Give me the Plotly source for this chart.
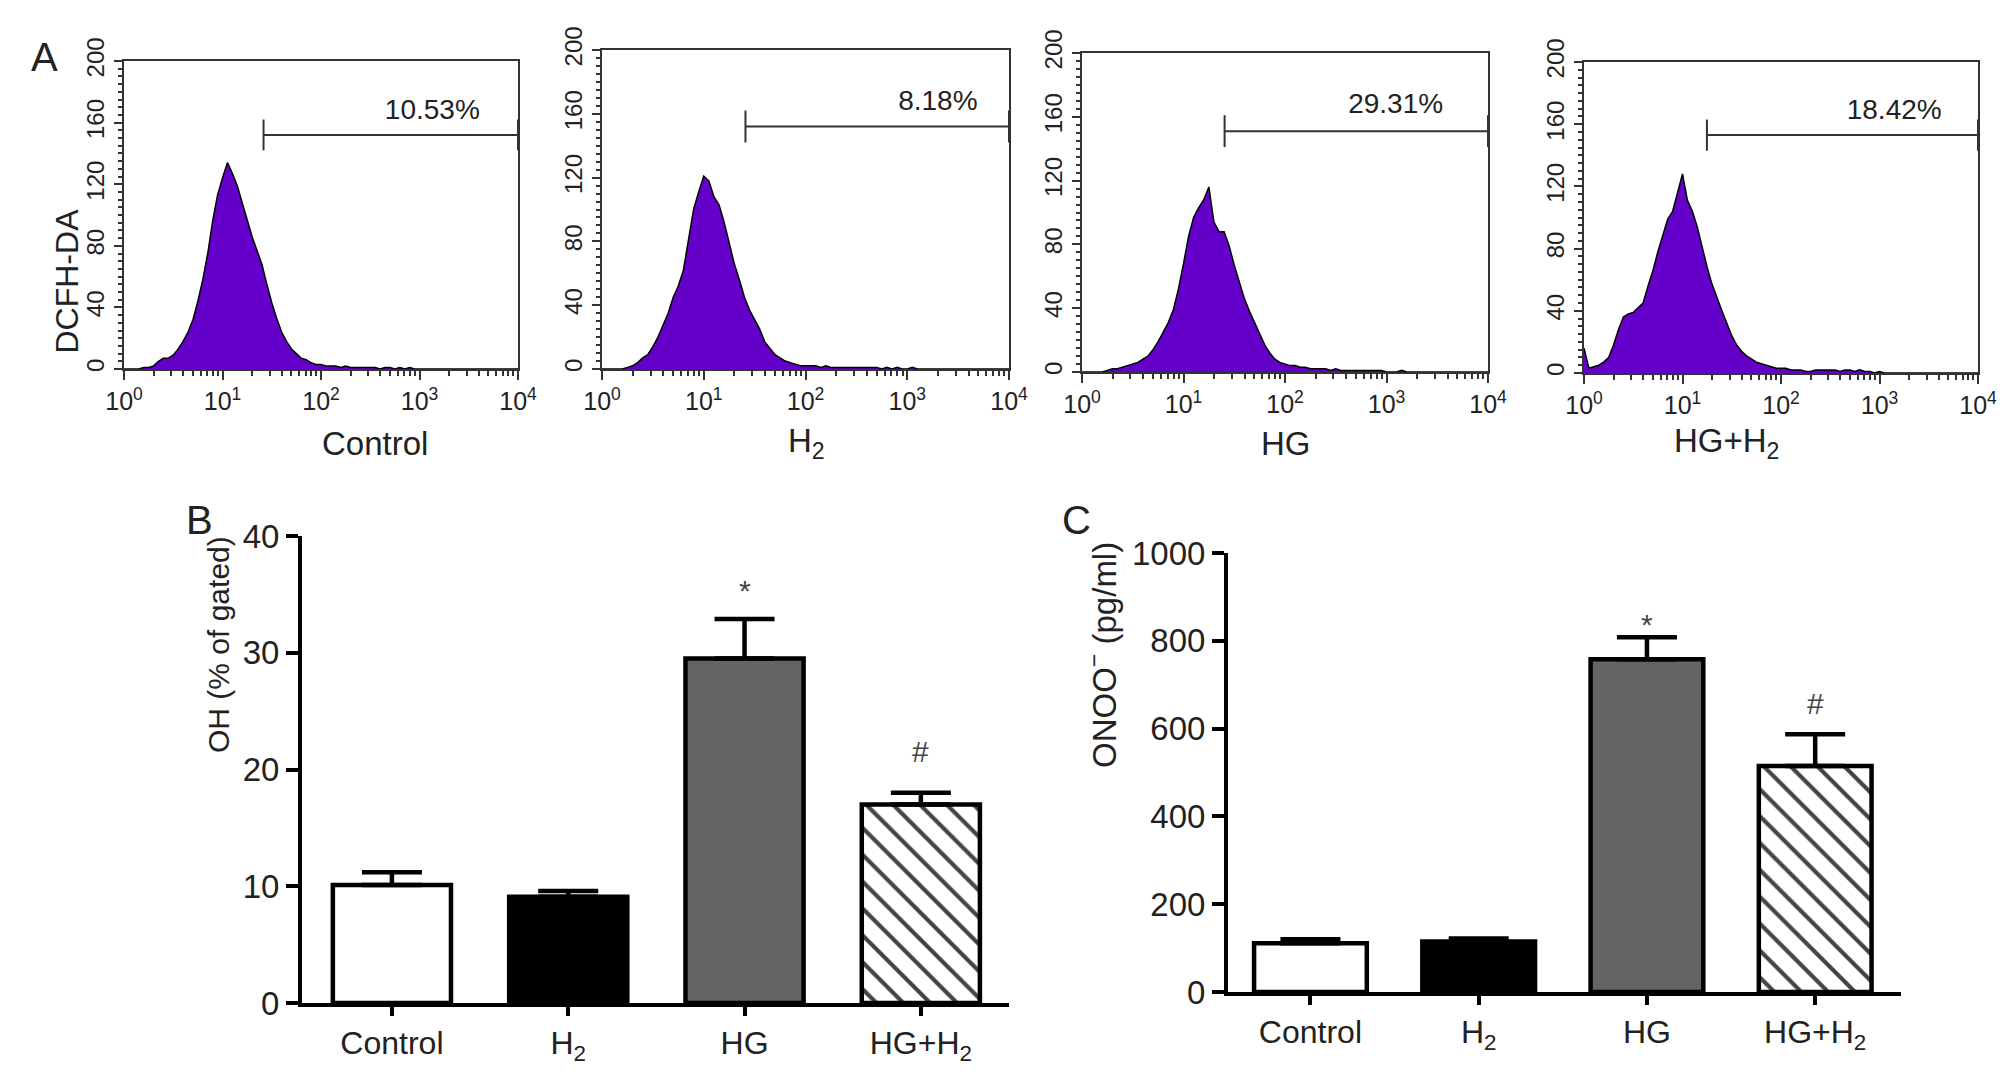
import plotly.graph_objects as go

# ---------------- data ----------------
groups = ['Control', 'H<sub>2</sub>', 'HG', 'HG+H<sub>2</sub>']

# panel A: DCFH-DA histograms, counts per 0.05-decade channel bin (10^0 .. 10^4)
log_channel = [round(i * 0.05, 2) for i in range(81)]

counts_control = [
    0, 0, 0, 0, 1, 1, 2, 5, 7, 7,
    9, 13, 18, 24, 32, 44, 58, 75, 96, 113,
    124, 134, 127, 119, 108, 97, 86, 77, 68, 55,
    43, 33, 24, 18, 13, 10, 7, 6, 4, 3,
    3, 2, 2, 2, 1, 2, 1, 1, 1, 1,
    1, 1, 0, 1, 1, 0, 1, 0, 1, 0,
    0, 0, 0, 0, 0, 0, 0, 0, 0, 0,
    0, 0, 0, 0, 0, 0, 0, 0, 0, 0,
    0]
counts_h2 = [
    0, 0, 0, 0, 0, 1, 2, 4, 7, 9,
    14, 20, 27, 35, 45, 52, 62, 82, 100, 111,
    121, 118, 108, 103, 92, 79, 66, 56, 45, 37,
    31, 25, 17, 13, 9, 7, 5, 4, 3, 2,
    2, 2, 2, 1, 2, 1, 1, 1, 1, 1,
    1, 1, 1, 1, 1, 0, 1, 0, 1, 0,
    0, 1, 0, 0, 0, 0, 0, 0, 0, 0,
    0, 0, 0, 0, 0, 0, 0, 0, 0, 0,
    0]
counts_hg = [
    0, 0, 0, 0, 0, 1, 2, 2, 3, 4,
    5, 6, 8, 10, 14, 19, 25, 31, 39, 52,
    68, 85, 97, 103, 108, 116, 94, 88, 88, 79,
    67, 57, 46, 38, 31, 24, 17, 12, 8, 6,
    5, 4, 4, 3, 3, 2, 2, 2, 2, 1,
    2, 1, 1, 1, 1, 1, 1, 1, 1, 1,
    0, 0, 0, 1, 0, 0, 0, 0, 0, 0,
    0, 0, 0, 0, 0, 0, 0, 0, 0, 0,
    0]
counts_hg_h2 = [
    16, 3, 4, 5, 7, 10, 18, 28, 36, 38,
    39, 42, 45, 56, 66, 78, 88, 99, 104, 116,
    128, 111, 104, 94, 80, 68, 57, 48, 40, 32,
    24, 18, 14, 11, 9, 7, 6, 5, 4, 3,
    3, 3, 2, 2, 2, 1, 1, 2, 2, 2,
    2, 2, 1, 2, 2, 1, 2, 1, 1, 0,
    1, 0, 0, 0, 0, 0, 0, 0, 0, 0,
    0, 0, 0, 0, 0, 0, 0, 0, 0, 0,
    0]
hist_counts = [counts_control, counts_h2, counts_hg, counts_hg_h2]

gate_start = [26.1, 25.7, 25.4, 17.7]
gate_end = 10000
gate_level = [152, 152, 151, 153]
gate_pct = ['10.53%', '8.18%', '29.31%', '18.42%']
pct_x = [1350, 2000, 1230, 1410]
pct_y = [167, 167, 167, 168]

# panel B: OH (% of gated)
oh_mean = [10.1, 9.1, 29.5, 17.0]
oh_sem = [1.1, 0.5, 3.4, 1.0]
# panel C: ONOO- (pg/ml)
onoo_mean = [111, 115, 758, 515]
onoo_sem = [9, 7, 50, 72]

bar_pos = [0, 1, 2, 3]
bar_fill = ['white', 'black', '#646464', 'white']
bar_hatch = ['', '', '', '\\']

# ---------------- layout helpers ----------------
# the page body keeps an 8px margin, so the figure is drawn 16px smaller
PAD = 8
W, H = 2008 - 2 * PAD, 1074 - 2 * PAD
FONT = 'Liberation Sans, Arial, sans-serif'
fluor = [10 ** v for v in log_channel]


def px_x(v):
    return (v - PAD) / W


def px_y(v):
    return 1 - (v - PAD) / H


# window-pixel boxes of the four histograms: left, right, top, bottom
hist_boxes = [(124, 518, 61, 369), (602, 1009, 50, 369),
              (1082, 1488, 53, 372), (1584, 1978, 62, 373)]
hist_centres = [320, 806, 1286, 1781]

fig = go.Figure()
layout = dict(
    width=W, height=H, margin=dict(l=0, r=0, t=0, b=0, pad=0),
    paper_bgcolor='white', plot_bgcolor='white', showlegend=False,
    font=dict(family=FONT, color='#222'),
)

minor_vals = [m * 10 ** d for d in range(4) for m in range(2, 10)]

for i, counts in enumerate(hist_counts):
    n = i + 1
    xa = 'x' if n == 1 else f'x{n}'
    ya = 'y' if n == 1 else f'y{n}'
    fig.add_trace(go.Scatter(
        x=fluor, y=counts, mode='lines', xaxis=xa, yaxis=ya,
        line=dict(color='black', width=1.5),
        fill='tozeroy', fillcolor='#6400CA', hoverinfo='skip'))
    # gate marker
    fig.add_trace(go.Scatter(
        x=[gate_start[i], gate_end], y=[gate_level[i]] * 2,
        mode='lines', xaxis=xa, yaxis=ya,
        line=dict(color='#333', width=2),
        error_y=dict(type='constant', value=10, width=0, thickness=2, color='#333')))
    fig.add_trace(go.Scatter(
        x=[pct_x[i]], y=[pct_y[i]], mode='text', text=[gate_pct[i]],
        textfont=dict(size=28, color='#222', family=FONT),
        xaxis=xa, yaxis=ya))

    l, r, t, b = hist_boxes[i]
    xkey = 'xaxis' if n == 1 else f'xaxis{n}'
    ykey = 'yaxis' if n == 1 else f'yaxis{n}'
    layout[xkey] = dict(
        domain=[px_x(l), px_x(r)], anchor=ya, type='log', range=[0, 4],
        automargin=False,
        tickmode='array', tickvals=[1, 10, 100, 1000, 10000],
        ticktext=['10<sup>0</sup>', '10<sup>1</sup>', '10<sup>2</sup>',
                  '10<sup>3</sup>', '10<sup>4</sup>'],
        ticks='outside', ticklen=9, tickwidth=2, tickcolor='#333',
        minor=dict(tickmode='array', tickvals=minor_vals, ticks='outside',
                   ticklen=5, tickwidth=1.5, tickcolor='#333'),
        showline=True, mirror=True, linecolor='#333', linewidth=2,
        showgrid=False, zeroline=False,
        tickfont=dict(size=25, color='#222'))
    layout[ykey] = dict(
        domain=[px_y(b), px_y(t)], anchor=xa, range=[0, 200],
        automargin=False,
        tickmode='linear', tick0=0, dtick=40, tickangle=-90,
        ticks='outside', ticklen=8, tickwidth=2, tickcolor='#333',
        minor=dict(dtick=5, ticks='outside', ticklen=4, tickwidth=1.5, tickcolor='#333'),
        showline=True, mirror=True, linecolor='#333', linewidth=2,
        showgrid=False, zeroline=False,
        tickfont=dict(size=24, color='#222'))

# ---------------- bar panels ----------------
bar_panels = [
    dict(n=5, mean=oh_mean, sem=oh_sem, x=(302, 1009), y=(536, 1003),
         xr=[-0.51, 3.5], yr=[0, 40], dtick=10),
    dict(n=6, mean=onoo_mean, sem=onoo_sem, x=(1228, 1901), y=(553, 992),
         xr=[-0.49, 3.51], yr=[0, 1000], dtick=200),
]
for p in bar_panels:
    n = p['n']
    fig.add_trace(go.Bar(
        x=bar_pos, y=p['mean'], width=0.67, xaxis=f'x{n}', yaxis=f'y{n}',
        marker=dict(color=bar_fill, line=dict(color='black', width=4.5),
                    pattern=dict(shape=bar_hatch, fillmode='overlay',
                                 fgcolor='black', fgopacity=1,
                                 size=19, solidity=0.22)),
        error_y=dict(type='data', symmetric=False, array=p['sem'],
                     arrayminus=[0, 0, 0, 0], color='black', thickness=4.5, width=30)))
    layout[f'xaxis{n}'] = dict(
        domain=[px_x(p['x'][0]), px_x(p['x'][1])], anchor=f'y{n}', range=p['xr'],
        automargin=False,
        tickmode='array', tickvals=bar_pos, ticktext=groups,
        ticks='outside', ticklen=9, tickwidth=4, tickcolor='black',
        showline=True, linecolor='black', linewidth=4,
        showgrid=False, zeroline=False, tickfont=dict(size=32, color='#222'))
    layout[f'yaxis{n}'] = dict(
        domain=[px_y(p['y'][1]), px_y(p['y'][0])], anchor=f'x{n}', range=p['yr'],
        automargin=False,
        tickmode='linear', tick0=0, dtick=p['dtick'],
        ticks='outside', ticklen=12, tickwidth=4, tickcolor='black',
        showline=True, linecolor='black', linewidth=4,
        showgrid=False, zeroline=False, tickfont=dict(size=33, color='#222'))

# ---------------- text ----------------
notes = []
for i, name in enumerate(groups):
    notes.append(dict(text=name, x=px_x(hist_centres[i]), y=px_y(443), xref='paper',
                      yref='paper', showarrow=False, font=dict(size=33, color='#222')))

notes += [
    dict(text='DCFH-DA', x=px_x(46), y=px_y(207), textangle=-90, font=dict(size=32)),
    dict(text='OH (% of gated)', x=px_x(200), y=px_y(755), textangle=-90, font=dict(size=30)),
    dict(text='ONOO<sup>\u2212</sup> (pg/ml)', x=px_x(1102), y=px_y(770), textangle=-90,
         font=dict(size=33)),
    dict(text='A', x=px_x(29), y=px_y(33), font=dict(size=40)),
    dict(text='B', x=px_x(184), y=px_y(520), font=dict(size=40)),
    dict(text='C', x=px_x(1076), y=px_y(520), font=dict(size=40)),
]
for nt in notes[len(groups):]:
    nt.update(xref='paper', yref='paper', showarrow=False)
    nt['font'].update(color='#222')

# significance marks
notes += [
    dict(text='*', x=2, y=35.3, xref='x5', yref='y5', showarrow=False,
         font=dict(size=30, color='#444')),
    dict(text='#', x=3, y=21.5, xref='x5', yref='y5', showarrow=False,
         font=dict(size=30, color='#444')),
    dict(text='*', x=2, y=838, xref='x6', yref='y6', showarrow=False,
         font=dict(size=30, color='#444')),
    dict(text='#', x=3, y=657, xref='x6', yref='y6', showarrow=False,
         font=dict(size=30, color='#444')),
]
layout['annotations'] = notes

fig.update_layout(**layout)
fig.write_html('out.html')
